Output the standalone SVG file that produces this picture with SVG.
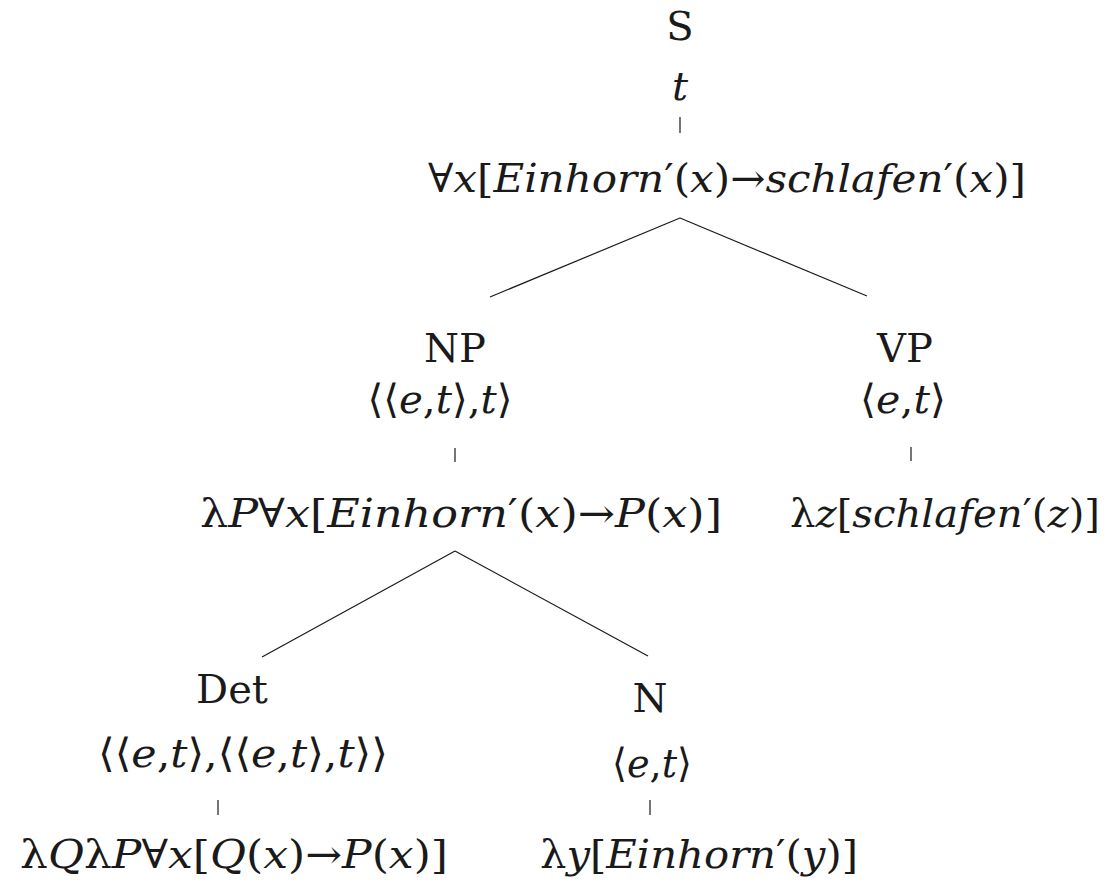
<svg xmlns="http://www.w3.org/2000/svg" width="1108" height="885" viewBox="0 0 1108 885">
<style>
.t{font-family:'DejaVu Serif','Liberation Serif',serif;font-size:40px;fill:#1a1a1a;text-anchor:middle}
.i{font-style:italic}
line{stroke:#1a1a1a;stroke-width:1.2}
</style>
<rect width="1108" height="885" fill="#fff"/>
<g id="connectors">
<line x1="680" y1="117" x2="680" y2="133"/>
<line x1="680" y1="218" x2="490" y2="297"/>
<line x1="680" y1="218" x2="867" y2="296"/>
<line x1="455" y1="448" x2="455" y2="462"/>
<line x1="911" y1="447" x2="911" y2="461"/>
<line x1="455" y1="551" x2="262" y2="657"/>
<line x1="455" y1="551" x2="648" y2="656"/>
<line x1="218" y1="800" x2="218" y2="815"/>
<line x1="650" y1="800" x2="650" y2="815"/>
</g>
<g id="node-S">
<text class="t" x="680" y="40">S</text>
<text class="t i" x="680" y="100">t</text>
<text class="t" x="727" y="192" textLength="598" lengthAdjust="spacingAndGlyphs">∀<tspan class="i">x</tspan>[<tspan class="i">Einhorn</tspan>′(<tspan class="i">x</tspan>)→<tspan class="i">schlafen</tspan>′(<tspan class="i">x</tspan>)]</text>
</g>
<g id="node-NP">
<text class="t" x="455" y="362">NP</text>
<text class="t" x="440" y="413" textLength="145" lengthAdjust="spacingAndGlyphs">⟨⟨<tspan class="i">e</tspan>,<tspan class="i">t</tspan>⟩,<tspan class="i">t</tspan>⟩</text>
<text class="t" x="461" y="527" textLength="522" lengthAdjust="spacingAndGlyphs">λ<tspan class="i">P</tspan>∀<tspan class="i">x</tspan>[<tspan class="i">Einhorn</tspan>′(<tspan class="i">x</tspan>)→<tspan class="i">P</tspan>(<tspan class="i">x</tspan>)]</text>
</g>
<g id="node-VP">
<text class="t" x="905" y="362">VP</text>
<text class="t" x="903" y="413" textLength="86" lengthAdjust="spacingAndGlyphs">⟨<tspan class="i">e</tspan>,<tspan class="i">t</tspan>⟩</text>
<text class="t" x="945" y="527" textLength="310" lengthAdjust="spacingAndGlyphs">λ<tspan class="i">z</tspan>[<tspan class="i">schlafen</tspan>′(<tspan class="i">z</tspan>)]</text>
</g>
<g id="node-Det">
<text class="t" x="232" y="703">Det</text>
<text class="t" x="243" y="767" textLength="290" lengthAdjust="spacingAndGlyphs">⟨⟨<tspan class="i">e</tspan>,<tspan class="i">t</tspan>⟩,⟨⟨<tspan class="i">e</tspan>,<tspan class="i">t</tspan>⟩,<tspan class="i">t</tspan>⟩⟩</text>
<text class="t" x="234" y="868" textLength="428" lengthAdjust="spacingAndGlyphs">λ<tspan class="i">Q</tspan>λ<tspan class="i">P</tspan>∀<tspan class="i">x</tspan>[<tspan class="i">Q</tspan>(<tspan class="i">x</tspan>)→<tspan class="i">P</tspan>(<tspan class="i">x</tspan>)]</text>
</g>
<g id="node-N">
<text class="t" x="650" y="712">N</text>
<text class="t" x="652" y="777" textLength="80" lengthAdjust="spacingAndGlyphs">⟨<tspan class="i">e</tspan>,<tspan class="i">t</tspan>⟩</text>
<text class="t" x="699" y="868" textLength="318" lengthAdjust="spacingAndGlyphs">λ<tspan class="i">y</tspan>[<tspan class="i">Einhorn</tspan>′(<tspan class="i">y</tspan>)]</text>
</g>
</svg>
